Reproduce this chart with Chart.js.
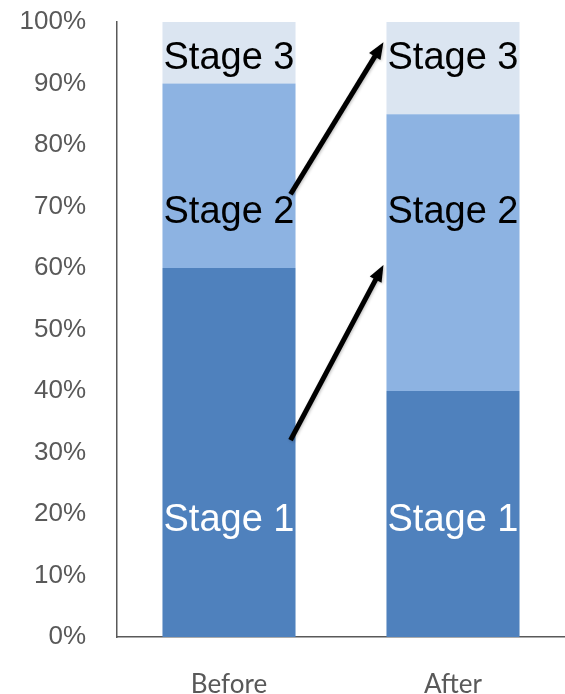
<!DOCTYPE html>
<html>
<head>
<meta charset="utf-8">
<script src="https://cdn.jsdelivr.net/npm/chart.js@4"></script>
<style>
  html, body { margin: 0; padding: 0; background: #fff; }
  #wrap { width: 565px; height: 694px; }
</style>
</head>
<body>
<div id="wrap"><canvas id="stages"></canvas></div>
<script>
const categories = ["Before", "After"];
const stageNames = ["Stage 1", "Stage 2", "Stage 3"];
const stage1 = [60, 40];
const stage2 = [30, 45];
const stage3 = [10, 15];
const yTicks = [0, 10, 20, 30, 40, 50, 60, 70, 80, 90, 100];

// where the stage names sit on the % scale (same for both bars)
const labelLevels = [19, 69, 94];
// arrows: start level on the Before bar, tip level at the After bar
const arrowFrom = [72, 32];
const arrowTo = [96.7, 60.5];

const colors = ["#4f81bd", "#8db3e2", "#dbe5f1"];
const labelColors = ["#ffffff", "#000000", "#000000"];
const axisGray = "#595959";

const stagePlugin = {
  id: "stageLabels",
  afterDatasetsDraw(chart) {
    const { ctx } = chart;
    const y = chart.scales.y;

    ctx.save();
    ctx.font = "38px 'Liberation Sans', Arial, sans-serif";
    ctx.textAlign = "center";
    ctx.textBaseline = "middle";
    stageNames.forEach((name, i) => {
      chart.getDatasetMeta(i).data.forEach((bar) => {
        ctx.fillStyle = labelColors[i];
        ctx.fillText(name, bar.x, y.getPixelForValue(labelLevels[i]));
      });
    });

    // arrows from the Before bar up to the After bar
    const before = chart.getDatasetMeta(0).data[0];
    const after = chart.getDatasetMeta(0).data[1];
    const x0 = before.x + before.width / 2 - 5;
    const x1 = after.x - after.width / 2 - 3;
    ctx.strokeStyle = "#000";
    ctx.fillStyle = "#000";
    ctx.lineWidth = 5;
    ctx.shadowColor = "rgba(0,0,0,0.25)";
    ctx.shadowBlur = 3;
    ctx.shadowOffsetX = 1;
    ctx.shadowOffsetY = 1;
    arrowFrom.forEach((v, i) => {
      const ya = y.getPixelForValue(v);
      const yb = y.getPixelForValue(arrowTo[i]);
      const ang = Math.atan2(yb - ya, x1 - x0);
      const head = 18;
      const bx = x1 - head * 0.8 * Math.cos(ang);
      const by = yb - head * 0.8 * Math.sin(ang);
      ctx.beginPath();
      ctx.moveTo(x0, ya);
      ctx.lineTo(bx, by);
      ctx.stroke();
      ctx.beginPath();
      ctx.moveTo(x1, yb);
      ctx.lineTo(x1 - head * Math.cos(ang - 0.38), yb - head * Math.sin(ang - 0.38));
      ctx.lineTo(x1 - head * Math.cos(ang + 0.38), yb - head * Math.sin(ang + 0.38));
      ctx.closePath();
      ctx.fill();
    });
    ctx.restore();
  },
};

new Chart(document.getElementById("stages"), {
  type: "bar",
  data: {
    labels: categories,
    datasets: [stage1, stage2, stage3].map((vals, i) => ({
      label: stageNames[i],
      data: vals,
      backgroundColor: colors[i],
      borderWidth: 0,
      barPercentage: 1,
      categoryPercentage: 0.594,
    })),
  },
  options: {
    responsive: true,
    maintainAspectRatio: false,
    animation: false,
    layout: { padding: { top: 22, right: 0, left: 0, bottom: 0 } },
    plugins: {
      legend: { display: false },
      tooltip: { enabled: false },
    },
    scales: {
      x: {
        stacked: true,
        grid: { display: false, drawTicks: false },
        border: { color: axisGray, width: 1.5 },
        ticks: {
          color: axisGray,
          padding: 32,
          font: { family: "Lato, 'Open Sans', sans-serif", size: 26 },
        },
        afterFit(scale) {
          scale.height = 57;
          scale.paddingLeft = 0;
          scale.paddingRight = 0;
        },
      },
      y: {
        stacked: true,
        min: 0,
        max: 100,
        afterBuildTicks(scale) { scale.ticks = yTicks.map((v) => ({ value: v })); },
        grid: { display: false, drawTicks: false },
        border: { color: axisGray, width: 1.5 },
        ticks: {
          color: axisGray,
          padding: 31,
          font: { family: "'Liberation Sans', Arial, sans-serif", size: 26 },
          callback: (v) => v + "%",
        },
        afterFit(scale) {
          scale.width = 117;
          scale.paddingTop = 0;
          scale.paddingBottom = 0;
        },
      },
    },
  },
  plugins: [stagePlugin],
});
</script>
</body>
</html>
